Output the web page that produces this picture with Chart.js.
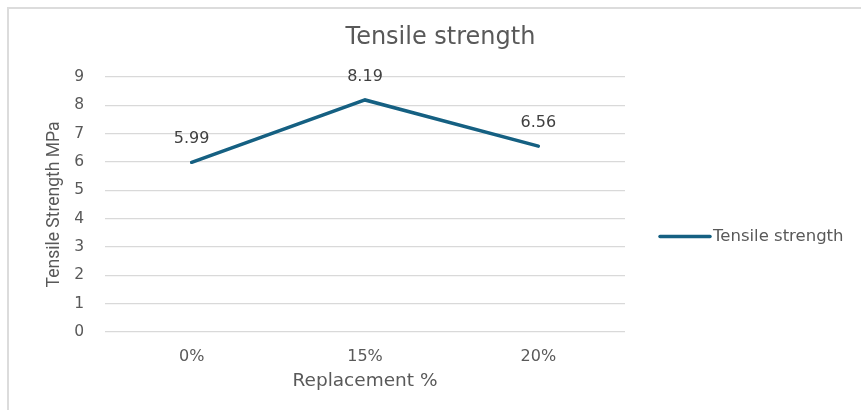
<!DOCTYPE html>
<html>
<head>
<meta charset="utf-8">
<script src="https://cdn.jsdelivr.net/npm/chart.js@4.4.1/dist/chart.umd.min.js"></script>
<style>
  html, body { margin: 0; padding: 0; background: #fff; }
  #wrap { position: relative; width: 861px; height: 410px; }
  #frame { position: absolute; left: 7px; top: 7px; right: 0; bottom: 0;
           border-top: 2px solid #dcdcdc; border-left: 2px solid #dcdcdc; }
  canvas { position: absolute; left: 0; top: 0; }
</style>
</head>
<body>
<div id="wrap">
  <div id="frame"></div>
  <canvas id="chart" width="861" height="410"></canvas>
</div>
<script>
// Replacement level vs. tensile strength
const categories = ['0%', '15%', '20%'];
const tensileStrength = [5.99, 8.19, 6.56];
const yTicks = [0, 1, 2, 3, 4, 5, 6, 7, 8, 9];
const chartTitle = 'Tensile strength';

const LINE_COLOR = '#156082';
const TEXT_COLOR = '#595959';
const WIDE_FONT = "'DejaVu Sans', 'Open Sans', sans-serif";
const NARROW_FONT = "'Liberation Sans Narrow', 'Roboto', sans-serif";

// title centred across the whole canvas, not just the plot
const wideTitle = {
  id: 'wideTitle',
  afterDraw(chart) {
    const ctx = chart.ctx;
    ctx.save();
    ctx.font = '24px ' + WIDE_FONT;
    ctx.fillStyle = TEXT_COLOR;
    ctx.textAlign = 'center';
    ctx.textBaseline = 'middle';
    ctx.fillText(chartTitle, chart.width / 2 + 10, 38);
    ctx.restore();
  }
};

// value labels above each point
const pointLabels = {
  id: 'pointLabels',
  afterDatasetsDraw(chart) {
    const ctx = chart.ctx;
    const meta = chart.getDatasetMeta(0);
    ctx.save();
    ctx.font = '16px ' + WIDE_FONT;
    ctx.fillStyle = '#404040';
    ctx.textAlign = 'center';
    ctx.textBaseline = 'middle';
    meta.data.forEach((pt, i) => {
      ctx.fillText(tensileStrength[i].toFixed(2), pt.x, pt.y - 23);
    });
    ctx.restore();
  }
};

// legend entry on the right
const sideLegend = {
  id: 'sideLegend',
  afterDraw(chart) {
    const ctx = chart.ctx;
    const area = chart.chartArea;
    const x = area.right + 35;
    const y = (area.top + area.bottom) / 2 + 32;
    ctx.save();
    ctx.strokeStyle = LINE_COLOR;
    ctx.lineWidth = 3.5;
    ctx.lineCap = 'round';
    ctx.beginPath();
    ctx.moveTo(x, y);
    ctx.lineTo(x + 50, y);
    ctx.stroke();
    ctx.font = '16.5px ' + WIDE_FONT;
    ctx.fillStyle = TEXT_COLOR;
    ctx.textAlign = 'left';
    ctx.textBaseline = 'middle';
    ctx.fillText(chart.data.datasets[0].label, x + 53, y);
    ctx.restore();
  }
};

new Chart(document.getElementById('chart'), {
  type: 'line',
  data: {
    labels: categories,
    datasets: [{
      label: 'Tensile strength',
      data: tensileStrength,
      borderColor: LINE_COLOR,
      borderWidth: 3.5,
      borderCapStyle: 'round',
      pointRadius: 0,
      tension: 0,
      fill: false
    }]
  },
  options: {
    responsive: false,
    animation: false,
    layout: { padding: { left: 37, right: 236, top: 77, bottom: 18 } },
    plugins: {
      legend: { display: false },
      tooltip: { enabled: false },
      title: { display: false }
    },
    scales: {
      x: {
        offset: true,
        grid: { display: false, drawTicks: false },
        border: { display: false },
        ticks: { color: TEXT_COLOR, font: { family: WIDE_FONT, size: 16 }, padding: 15 },
        title: {
          display: true,
          text: 'Replacement %',
          color: TEXT_COLOR,
          font: { family: WIDE_FONT, size: 18.5 },
          padding: { top: 4, bottom: 0 }
        },
        afterFit(scale) { scale.height = 60; }
      },
      y: {
        min: 0,
        max: 9,
        afterBuildTicks(scale) { scale.ticks = yTicks.map(v => ({ value: v })); },
        grid: { color: '#d9d9d9', lineWidth: 1.2, drawTicks: false },
        border: { display: false },
        ticks: { color: TEXT_COLOR, font: { family: WIDE_FONT, size: 15.5 }, padding: 21 },
        title: {
          display: true,
          text: 'Tensile Strength MPa',
          color: TEXT_COLOR,
          font: { family: NARROW_FONT, size: 17.5 },
          padding: { top: 7, bottom: 0 }
        },
        afterFit(scale) { scale.width = 68; }
      }
    }
  },
  plugins: [wideTitle, pointLabels, sideLegend]
});
</script>
</body>
</html>
